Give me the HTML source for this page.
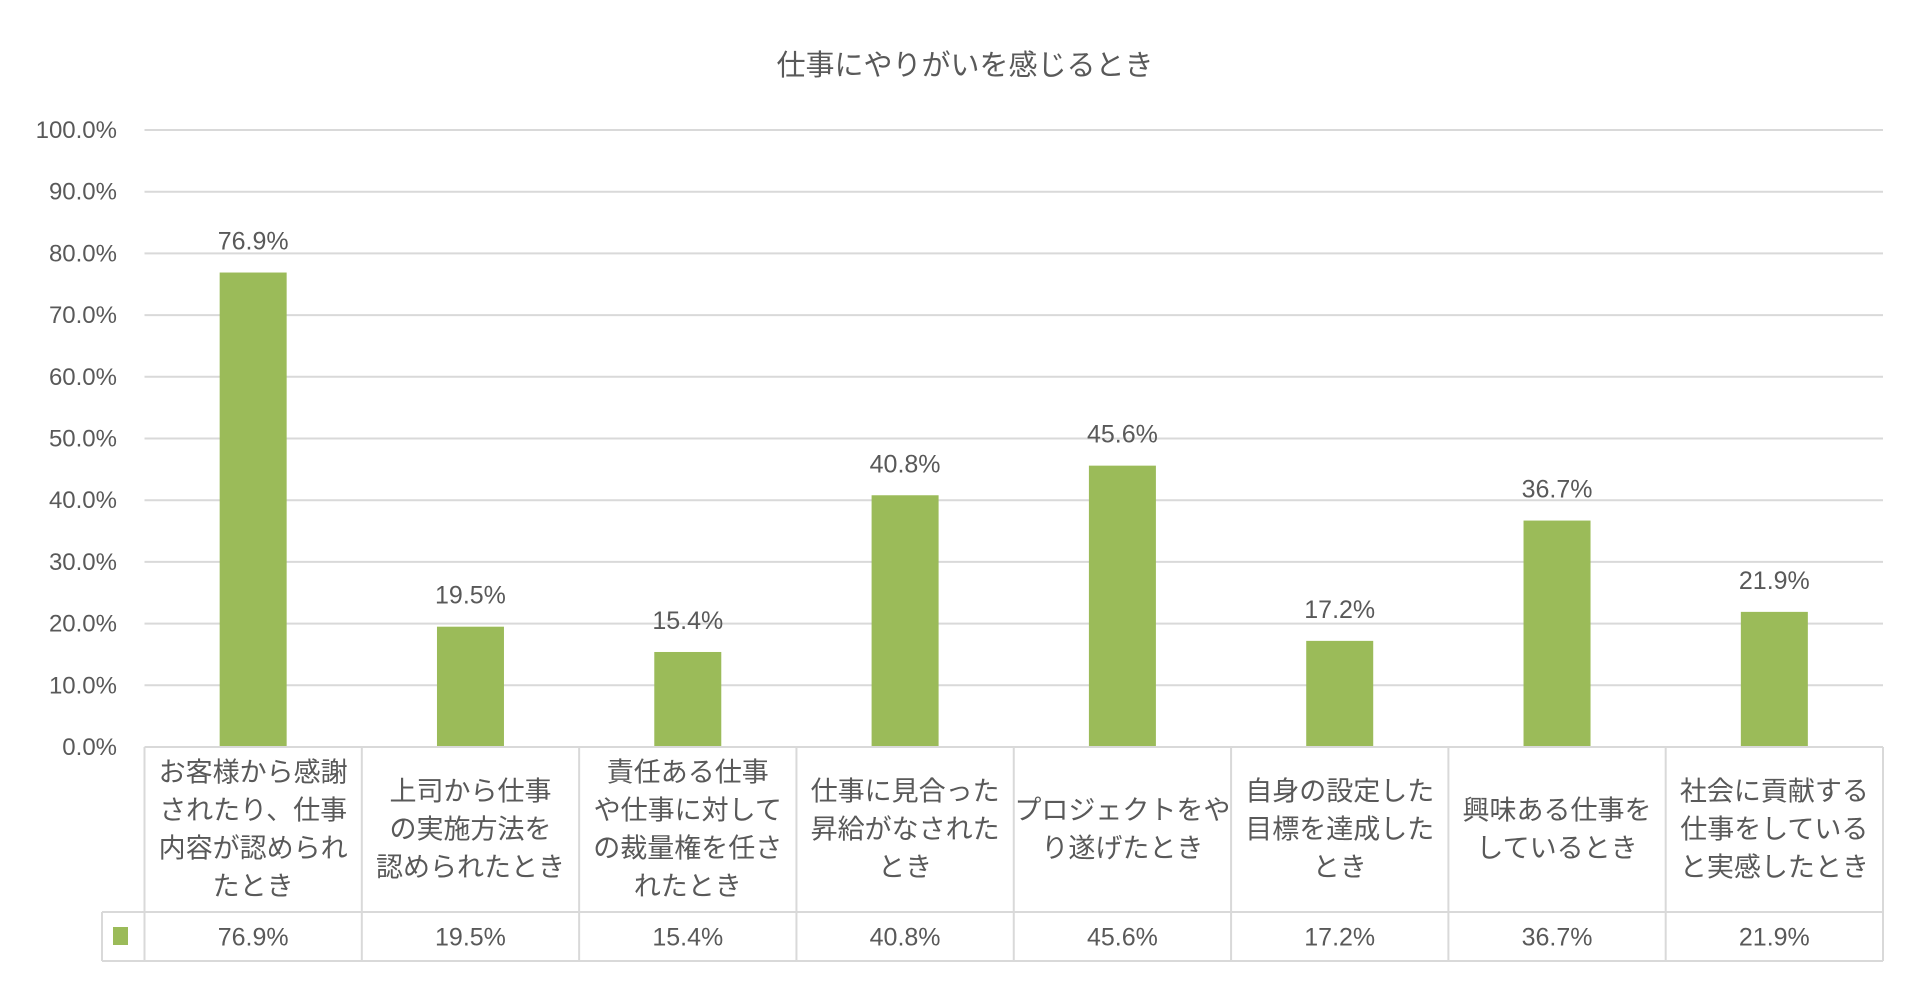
<!DOCTYPE html>
<html><head><meta charset="utf-8"><style>
html,body{margin:0;padding:0;background:#fff;}
svg text{font-family:"Liberation Sans","Noto Sans CJK JP",sans-serif;fill:#595959;}
</style></head><body>
<svg id="chart" width="1920" height="1000" viewBox="0 0 1920 1000" xmlns="http://www.w3.org/2000/svg">
<text x="965" y="75" font-size="29" text-anchor="middle">仕事にやりがいを感じるとき</text>
<g id="grid"></g><g id="bars"></g><g id="table"></g>
</svg>
<script>
const categories = [
 ["お客様から感謝","されたり、仕事","内容が認められ","たとき"],
 ["上司から仕事","の実施方法を","認められたとき"],
 ["責任ある仕事","や仕事に対して","の裁量権を任さ","れたとき"],
 ["仕事に見合った","昇給がなされた","とき"],
 ["プロジェクトをや","り遂げたとき"],
 ["自身の設定した","目標を達成した","とき"],
 ["興味ある仕事を","しているとき"],
 ["社会に貢献する","仕事をしている","と実感したとき"]
];
const values = [76.9, 19.5, 15.4, 40.8, 45.6, 17.2, 36.7, 21.9];
const yTicks = [0,10,20,30,40,50,60,70,80,90,100];

const NS="http://www.w3.org/2000/svg";
const L=144.5,R=1883,T=130,B=747,rowB=912,tabB=961,legL=102;
const n=values.length, cw=(R-L)/n, bw=67;
const y=v=>B-(v/100)*(B-T);
const x=i=>L+cw*i+cw/2;
function mk(tag,attrs,parent,txt){const e=document.createElementNS(NS,tag);for(const k in attrs)e.setAttribute(k,attrs[k]);if(txt!==undefined)e.textContent=txt;parent.appendChild(e);return e;}
const grid=document.getElementById('grid'),bars=document.getElementById('bars'),tab=document.getElementById('table');
yTicks.forEach(t=>{
 if(t>0){const g=mk('line',{x1:L,x2:R,y1:y(t),y2:y(t),stroke:'#d9d9d9','stroke-width':2},grid);
 
 }
 const lb=mk('text',{x:117,y:y(t)+8,'font-size':24,'text-anchor':'end'},grid,t.toFixed(1)+'%');
 
 
});
values.forEach((v,i)=>{
 const r=mk('rect',{x:x(i)-bw/2,y:y(v),width:bw,height:B-y(v),fill:'#9bbb59'},bars);
 
 
 const t=mk('text',{x:x(i),y:y(v)-23,'font-size':25,'text-anchor':'middle'},bars,v.toFixed(1)+'%');
 
 
 const lines=categories[i],lh=38,c=(B+rowB)/2;
 lines.forEach((s,j)=>{
  const ct=mk('text',{x:x(i),y:c+(j-(lines.length-1)/2)*lh+9,'font-size':27,'text-anchor':'middle'},tab,s);
  
  
 });
 const dt=mk('text',{x:x(i),y:(rowB+tabB)/2+9,'font-size':25,'text-anchor':'middle'},tab,v.toFixed(1)+'%');
 
 
});
const st={stroke:'#d9d9d9','stroke-width':2};
function ln(a,b,c,d){const l=mk('line',Object.assign({x1:a,y1:b,x2:c,y2:d},st),tab);
 
 }
ln(L,B,R,B);ln(legL,rowB,R,rowB);ln(legL,tabB,R,tabB);ln(legL,rowB,legL,tabB);
for(let i=0;i<=n;i++)ln(L+cw*i,B,L+cw*i,tabB);
const key=mk('rect',{x:113,y:927,width:15,height:18,fill:'#9bbb59'},tab);


</script>
</body></html>
